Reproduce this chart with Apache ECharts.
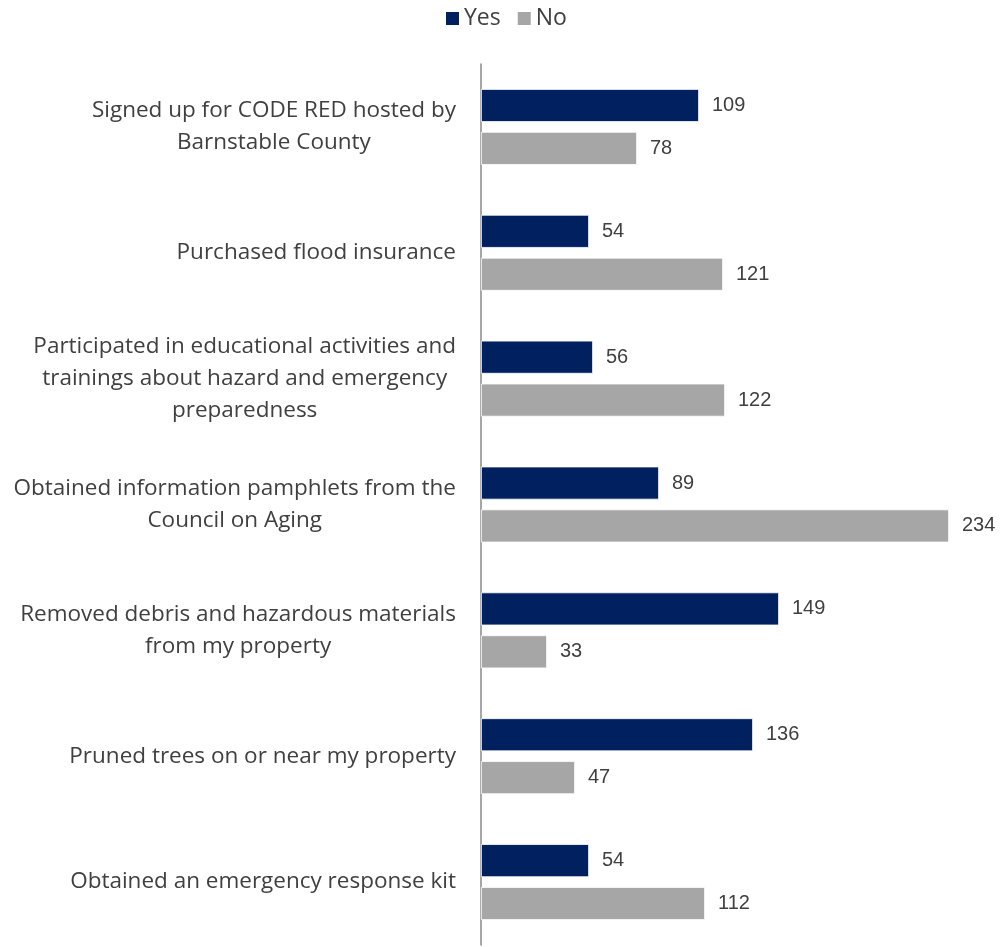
<!DOCTYPE html>
<html>
<head>
<meta charset="utf-8">
<script src="https://cdn.jsdelivr.net/npm/echarts@6/dist/echarts.min.js"></script>
<style>
  html, body { margin: 0; padding: 0; background: #fff; }
  #chart { width: 1000px; height: 947px; }
</style>
</head>
<body>
<div id="chart"></div>
<script>
// Survey actions, top to bottom; lines broken as they should wrap
const categories = [
  ['Signed up for CODE RED hosted by', 'Barnstable County'],
  ['Purchased flood insurance'],
  ['Participated in educational activities and', 'trainings about hazard and emergency', 'preparedness'],
  ['Obtained information pamphlets from the', 'Council on Aging'],
  ['Removed debris and hazardous materials', 'from my property'],
  ['Pruned trees on or near my property'],
  ['Obtained an emergency response kit']
];
const yesValues = [109, 54, 56, 89, 149, 136, 54];
const noValues = [78, 121, 122, 234, 33, 47, 112];

const categoryNames = categories.map(lines => lines.join('\n'));

const chart = echarts.init(document.getElementById('chart'));

const labelFont = '"Open Sans", Lato, sans-serif';
const valueLabel = {
  show: true,
  position: 'right',
  distance: 13,
  color: '#404040',
  fontFamily: '"Liberation Sans", Arial, sans-serif',
  fontSize: 20
};

chart.setOption({
  animation: false,
  legend: {
    top: 7,
    left: 444,
    padding: 0,
    itemWidth: 15,
    itemHeight: 15,
    itemGap: 15,
    icon: 'rect',
    textStyle: { fontFamily: labelFont, fontSize: 23, color: '#404040', padding: [0, 0, 0, -1] },
    data: ['Yes', 'No']
  },
  grid: { left: 481, right: 19, top: 64, bottom: 2, containLabel: false },
  xAxis: {
    type: 'value',
    min: 0,
    max: 250,
    show: false
  },
  yAxis: {
    type: 'category',
    inverse: true,
    data: categoryNames,
    axisLine: { show: true, lineStyle: { color: '#888888', width: 1.5 } },
    axisTick: { show: false },
    axisLabel: {
      margin: 25,
      color: '#404040',
      fontFamily: labelFont,
      fontSize: 22.5,
      lineHeight: 32,
      formatter: value => value.split('\n').map(l => '{c|' + l + '}').join('\n'),
      rich: {
        c: { align: 'center', fontFamily: labelFont, fontSize: 22.5, lineHeight: 32, color: '#404040' }
      }
    }
  },
  series: [
    {
      name: 'Yes',
      type: 'bar',
      data: yesValues,
      barWidth: 33,
      barGap: '30%',
      itemStyle: { color: '#002060', borderColor: '#ffffff', borderWidth: 0.8 },
      label: valueLabel
    },
    {
      name: 'No',
      type: 'bar',
      data: noValues,
      barWidth: 33,
      barGap: '30%',
      itemStyle: { color: '#A6A6A6', borderColor: '#ffffff', borderWidth: 0.8 },
      label: valueLabel
    }
  ]
});
</script>
</body>
</html>
